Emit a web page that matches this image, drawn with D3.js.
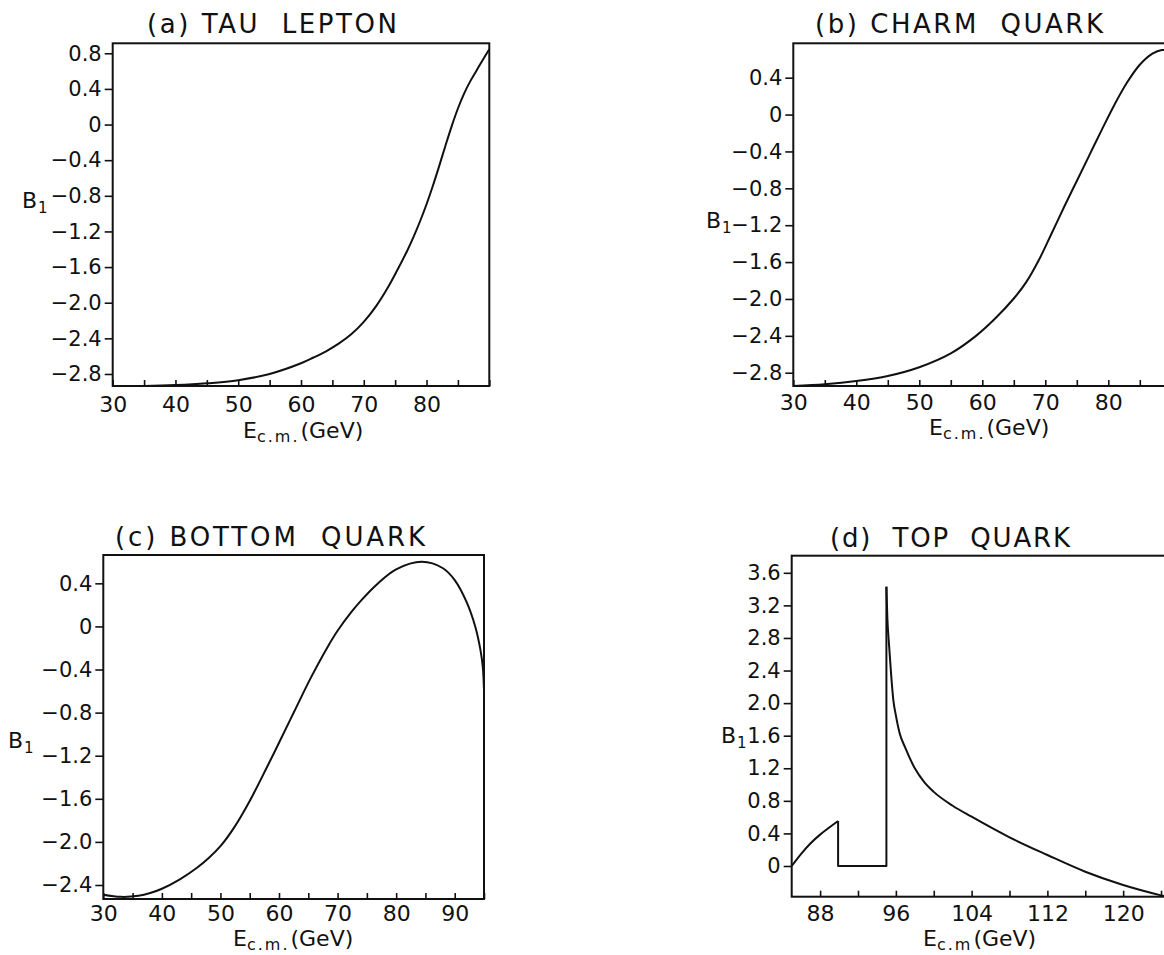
<!DOCTYPE html>
<html>
<head>
<meta charset="utf-8">
<script src="https://cdn.jsdelivr.net/npm/d3@7"></script>
<style>
  body { margin: 0; background: #fff; }
  svg { display: block; font-family: 'DejaVu Sans', sans-serif; }
  .tick line { stroke: #111; stroke-width: 1.6; }
  .tick text { fill: #111; }
</style>
</head>
<body>
<script>
// B1 against E_cm

// (a) tau lepton
const tauE = [30, 35, 40, 45, 50, 55, 60, 62, 64, 66, 68, 70, 72, 74, 76, 77, 78, 79, 80, 81, 82, 83, 84, 85, 86, 87, 88, 89, 90]
const tauB = [-2.935, -2.934, -2.925, -2.905, -2.87, -2.80, -2.68, -2.615, -2.545, -2.46, -2.355, -2.215, -2.035, -1.81, -1.545, -1.405, -1.25, -1.08, -0.895, -0.69, -0.47, -0.24, -0.02, 0.18, 0.35, 0.49, 0.61, 0.73, 0.845]

// (b) charm quark
const charmE = [30, 35, 40, 45, 50, 55, 59, 62, 65, 67, 69, 71, 73, 75, 77, 79, 81, 83, 85, 87, 88.5, 90]
const charmB = [-2.944, -2.925, -2.89, -2.835, -2.74, -2.59, -2.4, -2.215, -1.995, -1.815, -1.575, -1.29, -1.0, -0.72, -0.44, -0.16, 0.11, 0.35, 0.54, 0.66, 0.70, 0.69]

// (c) bottom quark
const bottomE = [30, 33, 36, 38, 40, 43, 46, 48, 50, 52.3, 55, 58, 60, 62.6, 65.4, 68.3, 70, 72.3, 74, 76.7, 80, 84.4, 88, 90, 92, 93.5, 94.4, 94.8, 95]
const bottomB = [-2.49, -2.51, -2.50, -2.475, -2.435, -2.35, -2.24, -2.15, -2.04, -1.87, -1.62, -1.30, -1.08, -0.79, -0.48, -0.19, -0.04, 0.13, 0.24, 0.39, 0.53, 0.60, 0.54, 0.43, 0.23, 0.0, -0.22, -0.38, -0.59]

// (d) top quark: rise, step down / flat / jump, then the falling tail
const topRiseE = [85, 86, 87, 88, 89, 89.9]
const topRiseB = [0, 0.15, 0.28, 0.385, 0.475, 0.552]
const topStepE = [89.9, 89.9, 95.0, 95.0]
const topStepB = [0.552, 0, 0, 3.43]
const topFallE = [95.0, 95.1, 95.27, 95.5, 95.73, 96.0, 96.4, 97, 98, 99, 100, 102, 104, 108, 112, 116, 120, 124.1, 125]
const topFallB = [3.43, 3.05, 2.73, 2.35, 2.04, 1.85, 1.63, 1.45, 1.20, 1.03, 0.91, 0.74, 0.605, 0.352, 0.135, -0.07, -0.233, -0.364, -0.39]

// ticks
const lowTicks = [30, 35, 40, 45, 50, 55, 60, 65, 70, 75, 80, 85, 90]
const lowLabels = [30, 40, 50, 60, 70, 80]
const bottomTicks = [30, 35, 40, 45, 50, 55, 60, 65, 70, 75, 80, 85, 90, 95]
const bottomLabels = [30, 40, 50, 60, 70, 80, 90]
const topTicks = [88, 92, 96, 100, 104, 108, 112, 116, 120, 124]
const topLabels = [88, 96, 104, 112, 120]
const tauYTicks = [0.8, 0.4, 0, -0.4, -0.8, -1.2, -1.6, -2.0, -2.4, -2.8]
const charmYTicks = [0.4, 0, -0.4, -0.8, -1.2, -1.6, -2.0, -2.4, -2.8]
const bottomYTicks = [0.4, 0, -0.4, -0.8, -1.2, -1.6, -2.0, -2.4]
const topYTicks = [3.6, 3.2, 2.8, 2.4, 2.0, 1.6, 1.2, 0.8, 0.4, 0]

const width = 1164
const height = 955

const svg = d3.select('body')
  .append('svg')
  .attr('width', width)
  .attr('height', height)

const fmt = (d) => d === 0 ? '0' : d3.format('.1f')(d)
const zip = (e, b) => e.map((v, i) => [v, b[i]])
const smooth = d3.curveCatmullRom.alpha(0.5)

const panels = [
  {
    title: '(a) TAU  LEPTON', titleX: 147, titleY: 33, titleW: 250,
    left: 112.7, right: 489.3, top: 43.3, bottom: 386,
    xDomain: [30, 90], yDomain: [-2.935, 0.912], pad: 10,
    xTicks: lowTicks, xLabels: lowLabels, yTicks: tauYTicks,
    yLab: [22, 208], xLab: [243, 438], sub: 'c.m.',
    series: [{pts: zip(tauE, tauB), curve: smooth}]
  },
  {
    title: '(b) CHARM  QUARK', titleX: 815, titleY: 33, titleW: 288,
    left: 793.3, right: 1171.3, top: 43.3, bottom: 386,
    xDomain: [30, 90], yDomain: [-2.944, 0.773], pad: 8,
    xTicks: lowTicks, xLabels: lowLabels, yTicks: charmYTicks,
    yLab: [706, 228], xLab: [929, 435], sub: 'c.m.',
    series: [{pts: zip(charmE, charmB), curve: smooth}]
  },
  {
    title: '(c) BOTTOM  QUARK', titleX: 115, titleY: 546, titleW: 310,
    left: 103.3, right: 484, top: 555, bottom: 899,
    xDomain: [30, 95], yDomain: [-2.53, 0.663], pad: 6,
    xTicks: bottomTicks, xLabels: bottomLabels, yTicks: bottomYTicks,
    yLab: [8, 748], xLab: [233, 946], sub: 'c.m.',
    series: [{pts: zip(bottomE, bottomB), curve: smooth}]
  },
  {
    title: '(d)  TOP  QUARK', titleX: 830, titleY: 546.7, titleW: 240,
    left: 791.7, right: 1170.5, top: 555.7, bottom: 896.7,
    xDomain: [85, 125], yDomain: [-0.377, 3.81], pad: 9,
    xTicks: topTicks, xLabels: topLabels, yTicks: topYTicks,
    yLab: [721, 743], xLab: [923, 946], sub: 'c.m',
    series: [
      {pts: zip(topRiseE, topRiseB), curve: smooth},
      {pts: zip(topStepE, topStepB), curve: d3.curveLinear},
      {pts: zip(topFallE, topFallB), curve: d3.curveMonotoneX}
    ]
  }
]

panels.forEach((p, i) => {
  const x = d3.scaleLinear().domain(p.xDomain).range([p.left, p.right])
  const y = d3.scaleLinear().domain(p.yDomain).range([p.bottom, p.top])
  const g = svg.append('g')

  g.append('clipPath')
    .attr('id', 'clip' + i)
    .append('rect')
    .attr('x', p.left)
    .attr('y', p.top)
    .attr('width', p.right - p.left)
    .attr('height', p.bottom - p.top)

  const xAxis = g.append('g')
    .attr('transform', `translate(0,${p.bottom})`)
    .call(d3.axisBottom(x)
      .tickValues(p.xTicks)
      .tickSize(-6)
      .tickPadding(p.pad)
      .tickFormat((d) => p.xLabels.includes(d) ? d : ''))
    .attr('font-family', null)
    .attr('font-size', null)
  xAxis.select('.domain').remove()
  xAxis.selectAll('text').style('font-size', '22px')

  const yAxis = g.append('g')
    .attr('transform', `translate(${p.left},0)`)
    .call(d3.axisLeft(y)
      .tickValues(p.yTicks)
      .tickSize(8)
      .tickPadding(3)
      .tickFormat(fmt))
    .attr('font-family', null)
    .attr('font-size', null)
  yAxis.select('.domain').remove()
  yAxis.selectAll('text').style('font-size', '21px')

  for (const s of p.series) {
    const line = d3.line()
      .x((d) => x(d[0]))
      .y((d) => y(d[1]))
      .curve(s.curve)
    g.append('path')
      .attr('clip-path', `url(#clip${i})`)
      .attr('d', line(s.pts))
      .attr('fill', 'none')
      .attr('stroke', '#111')
      .attr('stroke-width', 2)
      .attr('stroke-linejoin', 'round')
  }

  g.append('rect')
    .attr('x', p.left)
    .attr('y', p.top)
    .attr('width', p.right - p.left)
    .attr('height', p.bottom - p.top)
    .attr('fill', 'none')
    .attr('stroke', '#111')
    .attr('stroke-width', 2)

  g.append('text')
    .attr('x', p.titleX)
    .attr('y', p.titleY)
    .attr('font-size', 26)
    .attr('textLength', p.titleW)
    .attr('fill', '#111')
    .style('white-space', 'pre')
    .text(p.title)

  const yl = g.append('text')
    .attr('x', p.yLab[0])
    .attr('y', p.yLab[1])
    .attr('font-size', 22)
    .attr('fill', '#111')
  yl.append('tspan').text('B')
  yl.append('tspan').attr('font-size', 15).attr('dy', 5).attr('dx', 1).text('1')

  const xl = g.append('text')
    .attr('x', p.xLab[0])
    .attr('y', p.xLab[1])
    .attr('font-size', 22)
    .attr('fill', '#111')
  xl.append('tspan').text('E')
  xl.append('tspan').attr('font-size', 16).attr('dy', 4).attr('letter-spacing', 2).text(p.sub)
  xl.append('tspan').attr('dy', -4).attr('dx', 1).text('(GeV)')
})
</script>
</body>
</html>
